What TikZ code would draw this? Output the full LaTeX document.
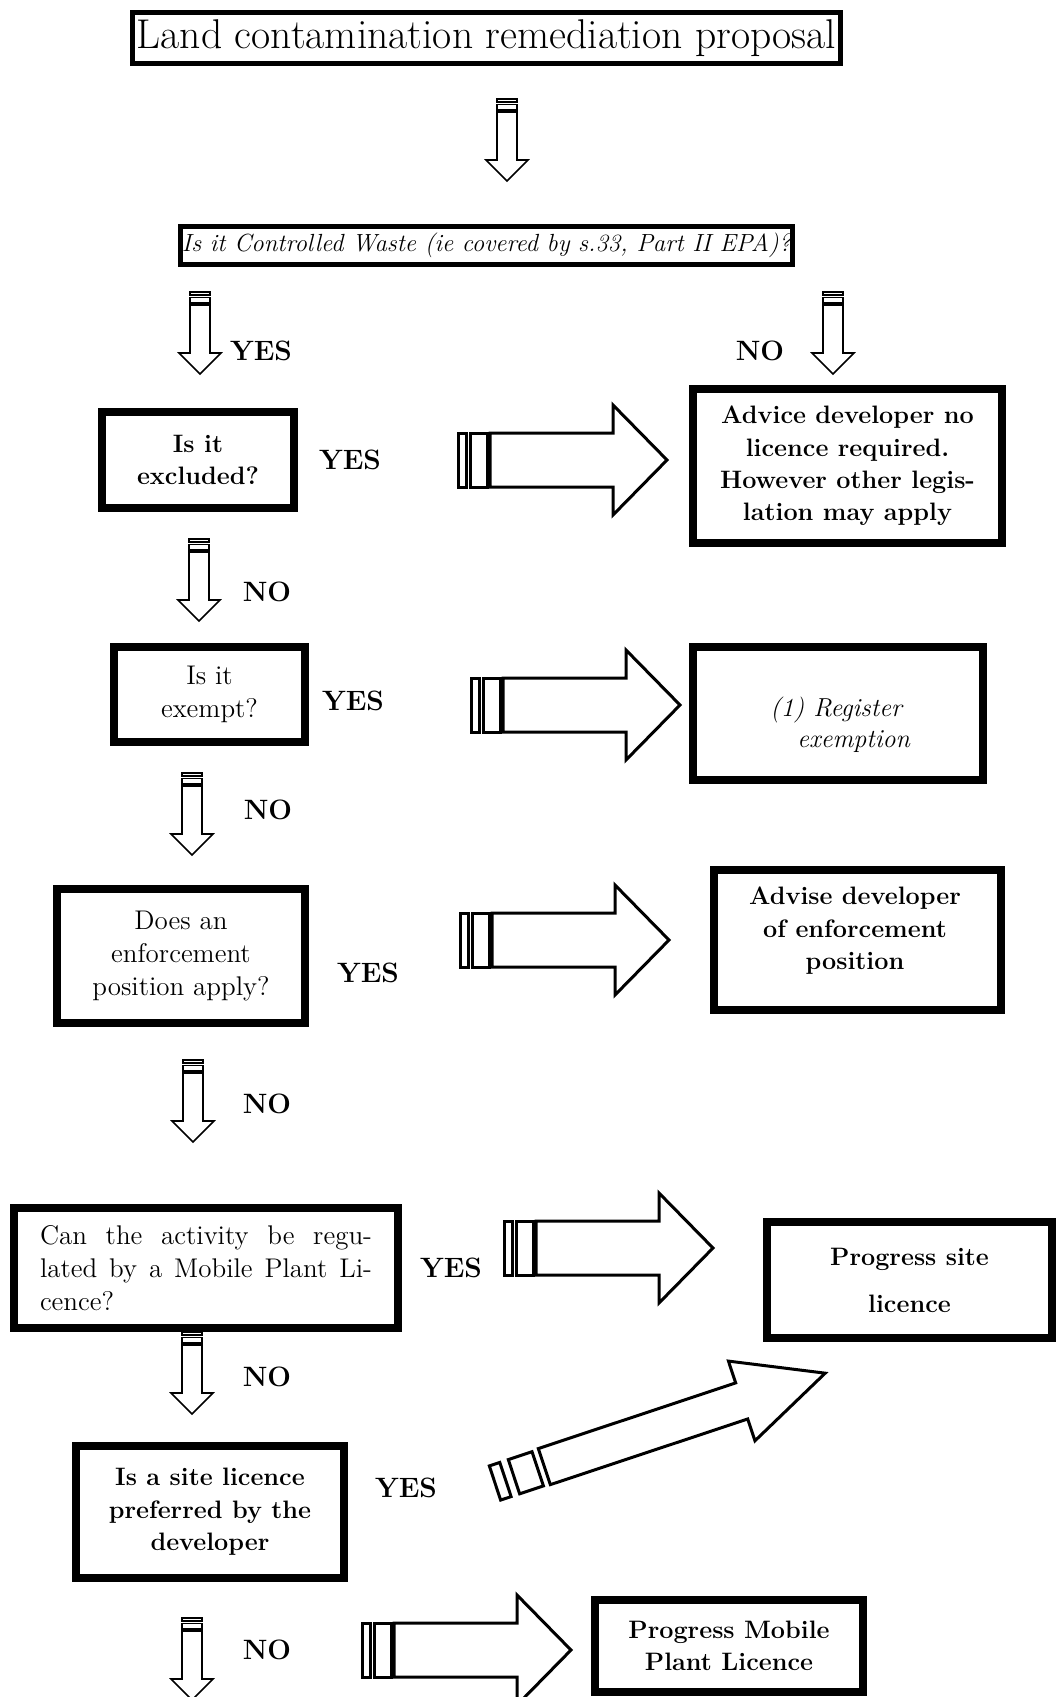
\documentclass[tikz,border=0pt]{standalone}
\usepackage{fontspec}
\begin{document}
\begin{tikzpicture}[x=0.5pt,y=-0.5pt,
  box/.style={draw,line width=4pt,inner sep=0pt,align=center},
  thinbox/.style={draw,line width=2.5pt,inner sep=0pt,align=center},
  bt/.style={font=\fontsize{12.6}{16.2}\selectfont\bfseries},
  rt/.style={font=\fontsize{13.5}{16.5}\selectfont},
  lab/.style={font=\fontsize{14}{16}\selectfont\bfseries,inner sep=0pt},
  arrline/.style={line width=1.5pt,line join=miter},
  darrline/.style={line width=0.8pt,line join=miter},
  downarr/.pic={
    \draw[darrline] (-10,0) rectangle (10,3);
    \draw[darrline] (-10,5.5) rectangle (10,11);
    \draw[darrline] (-10,13) -- (-10,61) -- (-21,61) -- (0,82) -- (21,61) -- (10,61) -- (10,13) -- cycle;
  },
  rightarr/.pic={
    \draw[arrline] (0,-27) rectangle (8,27);
    \draw[arrline] (12,-27) rectangle (29,27);
    \draw[arrline] (32,-27) -- (155,-27) -- (155,-55) -- (209,0) -- (155,55) -- (155,27) -- (32,27) -- cycle;
  },
  diagarr/.pic={
    \draw[arrline] (0,-18) rectangle (11,18);
    \draw[arrline] (20,-18) rectangle (45,18);
    \draw[arrline] (52,-19) -- (260,-19) -- (260,-42) -- (348,0) -- (260,42) -- (260,19) -- (52,19) -- cycle;
  }
]
\useasboundingbox (0,0) rectangle (1056,1697);

% title and first question
\node[thinbox,minimum width=354pt,minimum height=25.5pt,font=\fontsize{20.8}{24}\selectfont] (title) at (486.5,38) {Land contamination remediation proposal};
\pic (d1) at (507,99) {downarr};
\node[thinbox,minimum width=306pt,minimum height=19pt,font=\fontsize{12.4}{14}\selectfont\itshape] (cw) at (486.5,245.5) {Is it Controlled Waste (ie covered by s.33, Part II EPA)?};

\pic (d2) at (200,292) {downarr};
\node[lab] (yes1) at (261,351) {YES};
\pic (d3) at (833,292) {downarr};
\node[lab] (no1) at (760,351) {NO};

% excluded
\node[box,bt,minimum width=96pt,minimum height=48pt] (excl) at (198,460) {Is it\\excluded?};
\node[lab] (yes2) at (350,460) {YES};
\pic (a1) at (458,460) {rightarr};
\node[box,bt,minimum width=154.5pt,minimum height=77pt] (advice) at (847.5,466) {Advice developer no\\licence required.\\However other legis-\\lation may apply};

\pic (d4) at (199,539) {downarr};
\node[lab] (no2) at (267,592) {NO};

% exempt
\node[box,rt,minimum width=95.5pt,minimum height=47.5pt] (exempt) at (209.5,694.5) {Is it\\exempt?};
\node[lab] (yes3) at (353,701) {YES};
\pic (a2) at (471,705) {rightarr};
\node[box,minimum width=145pt,minimum height=66.5pt] (reg) at (838,713.5) {};
\node[anchor=west,align=left,inner sep=0pt,font=\fontsize{13}{15.5}\selectfont\itshape] (regtext) at (770,725) {(1) Register\\\hspace*{13.5pt}exemption};

\pic (d5) at (192,773) {downarr};
\node[lab] (no3) at (268,810) {NO};

% enforcement
\node[box,rt,minimum width=124pt,minimum height=67pt] (enf) at (181,956) {Does an\\enforcement\\position apply?};
\node[lab] (yes4) at (368,973) {YES};
\pic (a3) at (460,940) {rightarr};
\node[box,minimum width=143.5pt,minimum height=70pt] (advise) at (857.5,940) {};
\node[bt,align=center,inner sep=0pt] (advisetext) at (855,931) {Advise developer\\of enforcement\\position};

\pic (d6) at (193,1060) {downarr};
\node[lab] (no4) at (267,1104) {NO};

% mobile plant question
\node[box,rt,minimum width=192pt,minimum height=60pt,text width=166pt,align=left] (can) at (206,1268) {\leavevmode\hbox to 166pt{Can\hfill the\hfill activity\hfill be\hfill regu-}\\\leavevmode\hbox to 166pt{lated\hfill by\hfill a\hfill Mobile\hfill Plant\hfill Li-}\\cence?};
\node[lab] (yes5) at (451,1268) {YES};
\pic (a4) at (504,1248) {rightarr};
\node[box,font=\fontsize{12.6}{23.5}\selectfont\bfseries,minimum width=142.5pt,minimum height=58pt] (site) at (909.5,1280) {Progress site\\licence};

\pic (d7) at (192,1332) {downarr};
\node[lab] (no5) at (267,1377) {NO};

% site licence preferred
\node[box,bt,minimum width=134pt,minimum height=66pt] (pref) at (210,1512) {Is a site licence\\preferred by the\\developer};
\node[lab] (yes6) at (406,1488) {YES};
\pic[rotate=18.4] (a5) at (495,1483) {diagarr};

\pic (d8) at (192,1618) {downarr};
\node[lab] (no6) at (267,1650) {NO};
\pic (a6) at (362,1650) {rightarr};
\node[box,bt,minimum width=134pt,minimum height=46pt] (mobile) at (729,1646) {Progress Mobile\\Plant Licence};
\end{tikzpicture}
\end{document}
